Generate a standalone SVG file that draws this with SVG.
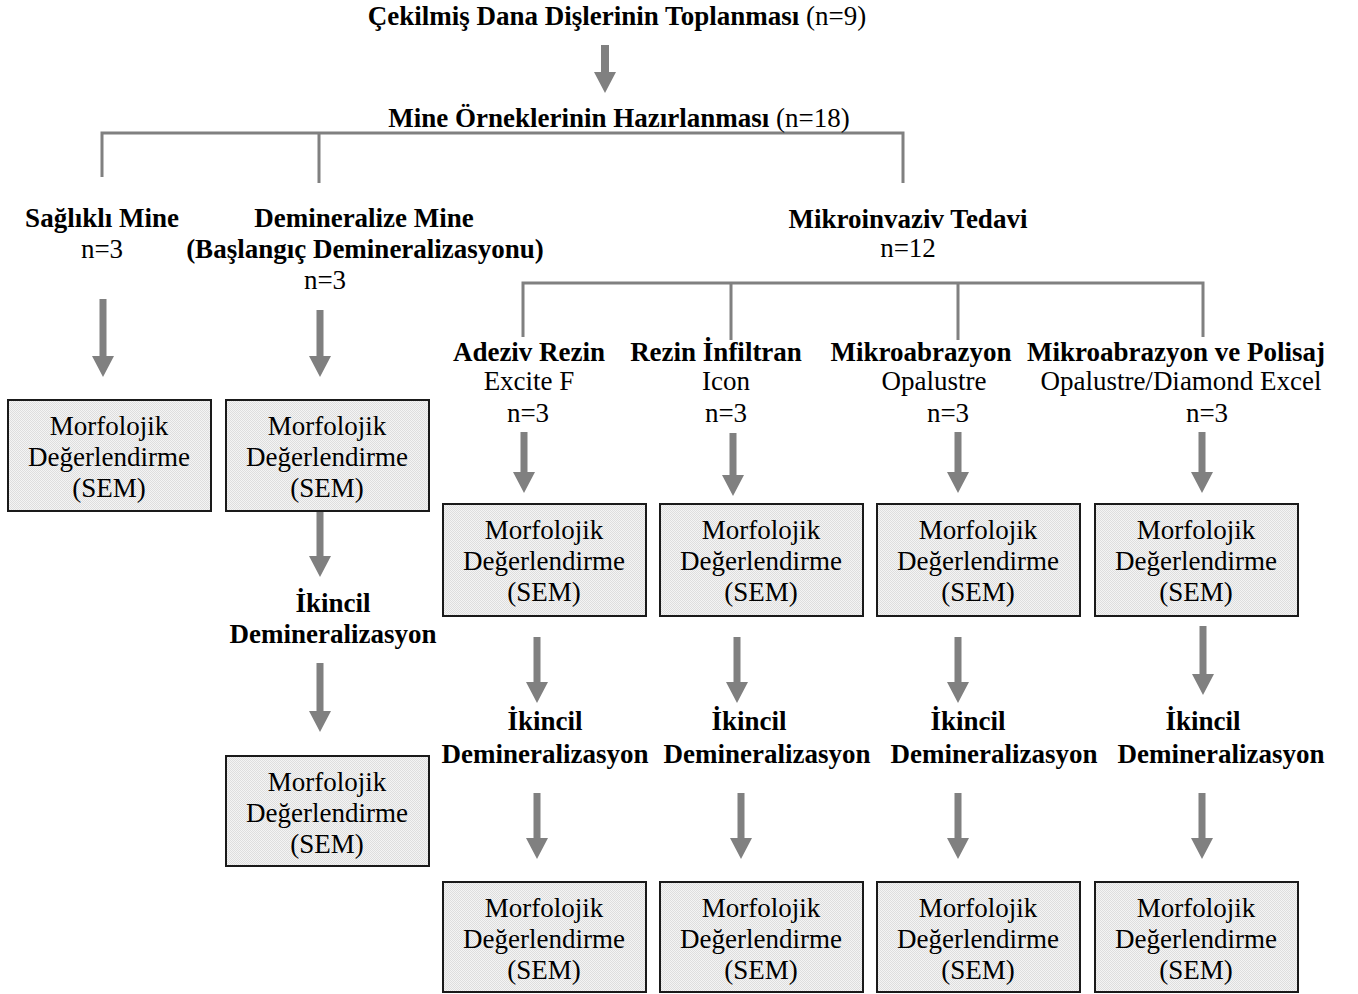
<svg xmlns="http://www.w3.org/2000/svg" width="1358" height="994" viewBox="0 0 1358 994">
<defs>
<pattern id="dots" width="2" height="2" patternUnits="userSpaceOnUse">
<rect width="2" height="2" fill="#f4f4f4"/>
<rect width="1" height="1" fill="#dedede"/>
<rect x="1" y="1" width="1" height="1" fill="#dedede"/>
</pattern>
</defs>
<style>
text{font-family:"Liberation Serif","Times New Roman",serif;font-size:27px;fill:#000;text-anchor:middle}
.b{font-weight:bold}
.box{fill:url(#dots);stroke:#1a1a1a;stroke-width:2}
.br{fill:none;stroke:#808080;stroke-width:3}
.ar{fill:#808080;stroke:none}
</style>
<rect width="1358" height="994" fill="#fff"/>
<g id="connectors">
<path class="br" d="M102 177 V133 H903 V183 M319 133 V183"/>
<path class="br" d="M523 337 V283 H1203 V337 M731 283 V340 M958 283 V340"/>
<path class="ar" d="M601 45 H609 V72 H616 L605 93 L594 72 H601 Z"/>
<path class="ar" d="M99.5 299 H106.5 V356 H114 L103 377 L92 356 H99.5 Z"/>
<path class="ar" d="M316.5 310 H323.5 V356 H331 L320 377 L309 356 H316.5 Z"/>
<path class="ar" d="M520.5 432 H527.5 V472 H535 L524 493 L513 472 H520.5 Z"/>
<path class="ar" d="M729.5 433 H736.5 V475 H744 L733 496 L722 475 H729.5 Z"/>
<path class="ar" d="M954.5 432 H961.5 V472 H969 L958 493 L947 472 H954.5 Z"/>
<path class="ar" d="M1198.5 432 H1205.5 V472 H1213 L1202 493 L1191 472 H1198.5 Z"/>
<path class="ar" d="M316.5 512 H323.5 V556 H331 L320 577 L309 556 H316.5 Z"/>
<path class="ar" d="M316.5 663 H323.5 V711 H331 L320 732 L309 711 H316.5 Z"/>
<path class="ar" d="M533.5 637 H540.5 V682 H548 L537 703 L526 682 H533.5 Z"/>
<path class="ar" d="M733.5 637 H740.5 V682 H748 L737 703 L726 682 H733.5 Z"/>
<path class="ar" d="M954.5 637 H961.5 V682 H969 L958 703 L947 682 H954.5 Z"/>
<path class="ar" d="M1199.5 626 H1206.5 V674 H1214 L1203 695 L1192 674 H1199.5 Z"/>
<path class="ar" d="M533.5 793 H540.5 V838 H548 L537 859 L526 838 H533.5 Z"/>
<path class="ar" d="M737.5 793 H744.5 V838 H752 L741 859 L730 838 H737.5 Z"/>
<path class="ar" d="M954.5 793 H961.5 V838 H969 L958 859 L947 838 H954.5 Z"/>
<path class="ar" d="M1198.5 793 H1205.5 V838 H1213 L1202 859 L1191 838 H1198.5 Z"/>
</g>
<g id="title"><text x="617" y="25"><tspan class="b">Çekilmiş Dana Dişlerinin Toplanması</tspan> (n=9)</text></g>
<g id="prep"><text x="619" y="127"><tspan class="b">Mine Örneklerinin Hazırlanması</tspan> (n=18)</text></g>
<g id="saglikli"><text class="b" x="102" y="227">Sağlıklı Mine</text><text x="102" y="258">n=3</text></g>
<g id="demineralize"><text class="b" x="364" y="227">Demineralize Mine</text><text class="b" x="365" y="258">(Başlangıç Demineralizasyonu)</text><text x="325" y="289">n=3</text></g>
<g id="mikroinvaziv"><text class="b" x="908" y="228">Mikroinvaziv Tedavi</text><text x="908" y="257">n=12</text></g>
<g id="adeziv"><text class="b" x="529" y="361">Adeziv Rezin</text><text x="529" y="390">Excite F</text><text x="528" y="422">n=3</text></g>
<g id="rezin"><text class="b" x="716" y="361">Rezin İnfiltran</text><text x="726" y="390">Icon</text><text x="726" y="422">n=3</text></g>
<g id="mikroabrazyon"><text class="b" x="921" y="361">Mikroabrazyon</text><text x="934" y="390">Opalustre</text><text x="948" y="422">n=3</text></g>
<g id="polisaj"><text class="b" x="1176" y="361">Mikroabrazyon ve Polisaj</text><text x="1181" y="390">Opalustre/Diamond Excel</text><text x="1207" y="422">n=3</text></g>
<g id="semA"><rect class="box" x="8" y="400" width="203" height="111"/><text x="109" y="435">Morfolojik</text><text x="109" y="466">Değerlendirme</text><text x="109" y="497">(SEM)</text></g>
<g id="semB"><rect class="box" x="226" y="400" width="203" height="111"/><text x="327" y="435">Morfolojik</text><text x="327" y="466">Değerlendirme</text><text x="327" y="497">(SEM)</text></g>
<g id="ikincilB"><text class="b" x="333" y="612">İkincil</text><text class="b" x="333" y="643">Demineralizasyon</text></g>
<g id="semB2"><rect class="box" x="226" y="756" width="203" height="110"/><text x="327" y="791">Morfolojik</text><text x="327" y="822">Değerlendirme</text><text x="327" y="853">(SEM)</text></g>
<g id="semC"><rect class="box" x="443" y="504" width="203" height="112"/><text x="544" y="539">Morfolojik</text><text x="544" y="570">Değerlendirme</text><text x="544" y="601">(SEM)</text></g>
<g id="semD"><rect class="box" x="660" y="504" width="203" height="112"/><text x="761" y="539">Morfolojik</text><text x="761" y="570">Değerlendirme</text><text x="761" y="601">(SEM)</text></g>
<g id="semE"><rect class="box" x="877" y="504" width="203" height="112"/><text x="978" y="539">Morfolojik</text><text x="978" y="570">Değerlendirme</text><text x="978" y="601">(SEM)</text></g>
<g id="semF"><rect class="box" x="1095" y="504" width="203" height="112"/><text x="1196" y="539">Morfolojik</text><text x="1196" y="570">Değerlendirme</text><text x="1196" y="601">(SEM)</text></g>
<g id="ikincilC"><text class="b" x="545" y="730">İkincil</text><text class="b" x="545" y="763">Demineralizasyon</text></g>
<g id="ikincilD"><text class="b" x="749" y="730">İkincil</text><text class="b" x="767" y="763">Demineralizasyon</text></g>
<g id="ikincilE"><text class="b" x="968" y="730">İkincil</text><text class="b" x="994" y="763">Demineralizasyon</text></g>
<g id="ikincilF"><text class="b" x="1203" y="730">İkincil</text><text class="b" x="1221" y="763">Demineralizasyon</text></g>
<g id="semC2"><rect class="box" x="443" y="882" width="203" height="110"/><text x="544" y="917">Morfolojik</text><text x="544" y="948">Değerlendirme</text><text x="544" y="979">(SEM)</text></g>
<g id="semD2"><rect class="box" x="660" y="882" width="203" height="110"/><text x="761" y="917">Morfolojik</text><text x="761" y="948">Değerlendirme</text><text x="761" y="979">(SEM)</text></g>
<g id="semE2"><rect class="box" x="877" y="882" width="203" height="110"/><text x="978" y="917">Morfolojik</text><text x="978" y="948">Değerlendirme</text><text x="978" y="979">(SEM)</text></g>
<g id="semF2"><rect class="box" x="1095" y="882" width="203" height="110"/><text x="1196" y="917">Morfolojik</text><text x="1196" y="948">Değerlendirme</text><text x="1196" y="979">(SEM)</text></g>
</svg>
